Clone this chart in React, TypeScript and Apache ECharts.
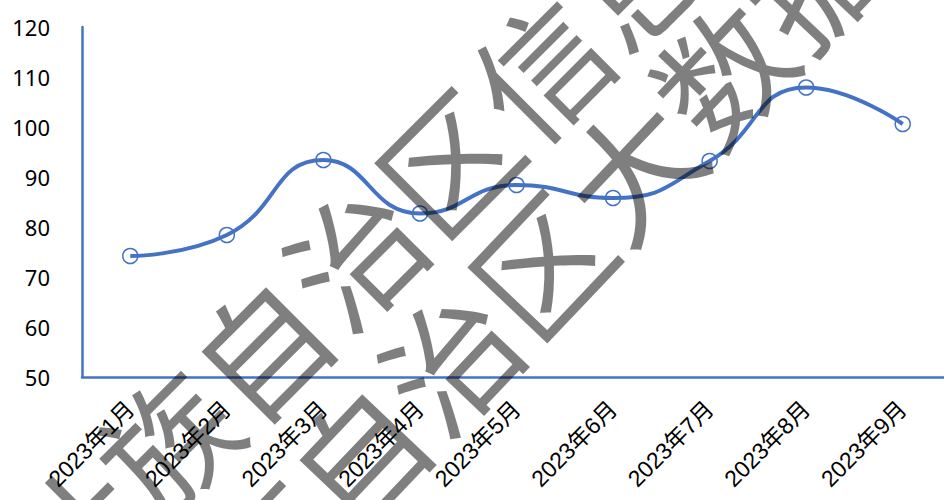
import React, { useEffect, useRef } from "react";
import * as echarts from "echarts";

const categories = [
  "2023年1月",
  "2023年2月",
  "2023年3月",
  "2023年4月",
  "2023年5月",
  "2023年6月",
  "2023年7月",
  "2023年8月",
  "2023年9月",
];
const values = [74.2, 78.4, 93.4, 82.7, 88.4, 85.8, 93.2, 107.9, 100.6];
const watermarkLines = ["广西壮族自治区信息中心", "广西壮族自治区大数据发展局"];

const BLUE = "#4472C4";

export default function App() {
  const ref = useRef<HTMLDivElement>(null);
  useEffect(() => {
    if (!ref.current) return;
    const chart = echarts.init(ref.current, undefined, { renderer: "svg" });
    const fs = 132;
    const angles = [Math.PI / 4, (46.5 * Math.PI) / 180];
    const anchors = [
      [258, 345],
      [356, 452],
    ];
    const graphics = watermarkLines.map((t, i) => {
      const [cx, cy] = anchors[i];
      const ang = angles[i];
      const dx = Math.cos(ang);
      const dy = -Math.sin(ang);
      const off = 4.5 * fs;
      return {
        type: "text",
        x: cx - off * dx,
        y: cy - off * dy,
        rotation: ang,
        z: 100,
        silent: true,
        style: {
          text: t,
          fontSize: fs,
          fontFamily: "Noto Sans CJK SC",
          fill: "rgba(0,0,0,0.5)",
          textAlign: "left",
          textVerticalAlign: "middle",
        },
      };
    });
    chart.setOption({
      animation: false,
      backgroundColor: "#fff",
      grid: {
        left: 82,
        width: 869,
        top: 27,
        bottom: 123,
        containLabel: false,
        outerBoundsMode: "none",
      },
      xAxis: {
        type: "category",
        data: categories,
        boundaryGap: true,
        axisLine: { show: true, lineStyle: { color: BLUE, width: 2.5 } },
        axisTick: { show: false },
        axisLabel: {
          rotate: 45,
          margin: 28,
          interval: 0,
          color: "#000",
          fontSize: 23,
          fontFamily: "Liberation Sans, Noto Sans CJK SC",
        },
      },
      yAxis: {
        type: "value",
        min: 50,
        max: 120,
        interval: 10,
        axisLine: { show: true, lineStyle: { color: BLUE, width: 2.5 } },
        axisTick: { show: false },
        splitLine: { show: false },
        axisLabel: {
          color: "#000",
          fontSize: 22,
          margin: 32,
          fontFamily: "Noto Sans",
        },
      },
      series: [
        {
          type: "line",
          data: values,
          smooth: 0.5,
          symbol: "circle",
          symbolSize: 15,
          lineStyle: { color: BLUE, width: 4 },
          itemStyle: { color: "rgba(255,255,255,0)", borderColor: BLUE, borderWidth: 1.5 },
        },
      ],
      graphic: graphics,
    });
    return () => chart.dispose();
  }, []);
  return (
    <div
      ref={ref}
      style={{ position: "fixed", left: 0, top: 0, width: 944, height: 500 }}
    />
  );
}
